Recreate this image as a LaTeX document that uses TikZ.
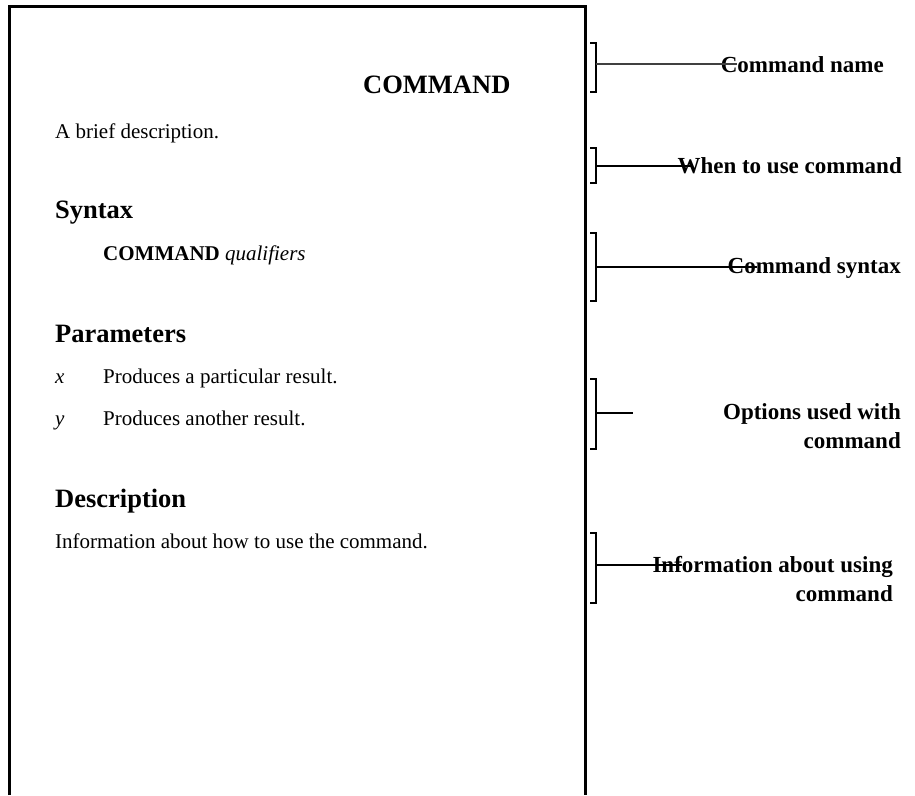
\documentclass[tikz,border=0pt]{standalone}
\usepackage{fontspec}
\setmainfont{Liberation Serif}
\usetikzlibrary{calc,positioning}
\def\callbracket(#1:#2){\draw[bracket] (590, #1) -- (596, #1) -- (596, #2) -- (590, #2);}
\tikzset{
	body/.style={anchor=base west, inner sep=0pt, font=\fontsize{21}{25}\selectfont},
	heading/.style={anchor=base west, inner sep=0pt, font=\bfseries\fontsize{26.5}{31}\selectfont},
	callout/.style={anchor=base east, inner sep=0pt, align=right, font=\bfseries\fontsize{23}{28.5}\selectfont},
	page/.style={line width=3pt},
	bracket/.style={line width=2pt},
	leader/.style={line width=1.3pt}
}
\begin{document}
\begin{tikzpicture}[x=1pt, y=-1pt]
			%%%%% START %%%%%
			\useasboundingbox (0, 0) rectangle (915, 795);
			
			% the page
			\draw[page] (9, 795) -- (9, 6) -- (585, 6) -- (585, 795);
			
			\node[heading] (title) at (363, 93) {COMMAND};
			\node[body] (brief) at (55, 138) {A brief description.};
			
			\node[heading] (syntax) at (55, 218) {Syntax};
			\node[body] (usage) at (103, 260) {\textbf{COMMAND} \textit{qualifiers}};
			
			\node[heading] (params) at (55, 342) {Parameters};
			\node[body] (px) at (55, 383) {\textit{x}};
			\node[body] (pxtext) at (103, 383) {Produces a particular result.};
			\node[body] (py) at (55, 425) {\textit{y}};
			\node[body] (pytext) at (103, 425) {Produces another result.};
			
			\node[heading] (descr) at (55, 507) {Description};
			\node[body] (info) at (55, 548) {Information about how to use the command.};
			
			% brackets on the right
			\callbracket(43:92)
			\callbracket(148:183)
			\callbracket(233:301)
			\callbracket(379:449)
			\callbracket(533:603)
			
			% labels (two-line ones sit on their last line)
			\node[callout] (lname) at (884, 72) {Command name};
			\node[callout] (lwhen) at (902, 173) {When to use command};
			\node[callout] (lsyntax) at (901, 273) {Command syntax};
			\node[callout] (lopts) at (901, 448) {Options used with\\command};
			\node[callout] (linfo) at (893, 601) {Information about using\\command};
			
			\coordinate (b1) at (596, 64);
			\coordinate (b2) at (596, 166);
			\coordinate (b3) at (596, 267);
			\coordinate (b4) at (596, 413);
			\coordinate (b5) at (596, 565);
			\coordinate (e1) at (737, 64);
			\coordinate (e2) at (693, 166);
			\coordinate (e3) at (757, 267);
			\coordinate (e4) at (633, 413);
			\coordinate (e5) at (682, 565);
			
			\draw[leader, color=black!75] (b1) -- (e1);
			\draw[leader] (b2) -- (e2);
			\draw[leader] (b3) -- (e3);
			\draw[leader] (b4) -- (e4);
			\draw[leader] (b5) -- (e5);
			
			%%%%% END %%%%%
\end{tikzpicture}
\end{document}
